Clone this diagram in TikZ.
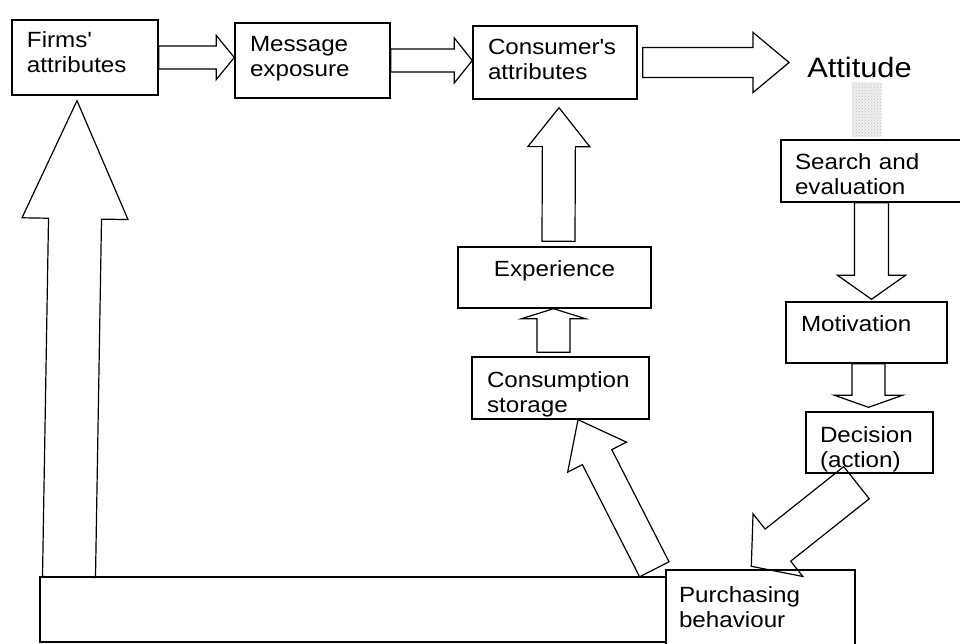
\documentclass[tikz,border=0pt]{standalone}
\usepackage{fontspec}
\setmainfont[FakeStretch=1.1]{Liberation Sans}
\usepackage{tikz}
\usetikzlibrary{calc, patterns}

\newcommand{\blockarrow}[5]{%
  \coordinate (ba-s) at (#1);
  \coordinate (ba-t) at (#2);
  \coordinate (ba-h) at ($(ba-t)!#5!(ba-s)$);
  \draw[fat] ($(ba-s)!#3!90:(ba-t)$) -- ($(ba-h)!#3!90:(ba-t)$) -- ($(ba-h)!#4!90:(ba-t)$) -- (ba-t) -- ($(ba-h)!#4!-90:(ba-t)$) -- ($(ba-h)!#3!-90:(ba-t)$) -- ($(ba-s)!#3!-90:(ba-t)$) -- cycle;
}

\begin{document}
\begin{tikzpicture}[x=1pt, y=-1pt,
    box/.style={draw, line width=1.4pt, inner xsep=15pt, inner ysep=0pt, align=left, font=\fontsize{22}{25}\selectfont},
    fat/.style={line width=1.2pt, line join=miter},
    smudge/.style={fill=gray!12, postaction={pattern=crosshatch dots, pattern color=gray!50}}]
            \useasboundingbox (0, 0) rectangle (960, 644);
            \clip (0, 0) rectangle (960, 644);
            \node[box, text width=116pt, text height=28pt, text depth=47pt] (firms) at (85, 57.5) {Firms\textquotesingle\\attributes};
            \node[box, text width=125pt, text height=29pt, text depth=46pt] (msg) at (312.5, 60.5) {Message\\exposure};
            \node[box, text width=134pt, text height=29pt, text depth=44pt] (cons) at (555, 62.5) {Consumer\textquotesingle s\\attributes};
            \node[inner sep=0pt, font=\fontsize{28}{32}\selectfont] (attitude) at (859.5, 67) {Attitude};
            \node[box, inner xsep=14pt, text width=166pt, text height=30pt, text depth=32pt] (search) at (878, 171) {Search and\\evaluation};
            \node[box, align=center, text width=163pt, text height=29pt, text depth=32pt] (exp) at (554.5, 277.5) {Experience};
            \node[box, text width=147pt, text height=30pt, text depth=32pt] (consump) at (560.5, 388) {Consumption\\storage};
            \node[box, text width=131pt, text height=29pt, text depth=32pt] (motiv) at (866.5, 332.5) {Motivation};
            \node[box, inner xsep=14pt, text width=99pt, text height=30pt, text depth=31pt] (decision) at (869.5, 442.5) {Decision\\(action)};
            \node[box, inner xsep=13pt, text width=163pt, text height=32pt, text depth=80pt] (purch) at (760.5, 626) {Purchasing\\behaviour};
            \coordinate (chan) at (40, 577);
            \coordinate (chanend) at (40, 642);
            \fill[smudge] ($(attitude.south)+(-8, 5)$) rectangle ($(attitude.south |- search.north)+(22, -2)$);
            \draw[fat] (purch.west |- chan) -- (chan) -- (chanend) -- (purch.west |- chanend);
            \blockarrow{firms.east}{firms.east -| msg.west}{11.5pt}{22pt}{18pt}
            \blockarrow{msg.east}{msg.east -| cons.west}{11.5pt}{22.5pt}{18pt}
            \blockarrow{$(cons.east)+(5, 0)$}{$(cons.east -| attitude.west)+(-18, 0)$}{15pt}{30pt}{36pt}
            \blockarrow{$(exp.north)+(4, -5)$}{$(cons.south)+(4, 8)$}{16.5pt}{31pt}{39pt}
            \blockarrow{$(consump.north)+(-7, -4)$}{$(exp.south)+(-1, 0)$}{16.5pt}{32pt}{10pt}
            \blockarrow{$(motiv.north |- search.south)+(5, 0)$}{$(motiv.north)+(5, -2)$}{17pt}{34pt}{24pt}
            \blockarrow{$(motiv.south)+(2, 0)$}{$(decision.north)+(-1, -4)$}{16.5pt}{34pt}{12pt}
            \blockarrow{$(decision.south)+(-13, 9)$}{$(purch.north west)+(86, -3)$}{20.5pt}{40pt}{34pt}
            \blockarrow{$(purch.north west)+(-11, 0)$}{$(consump.south)+(17.5, 0)$}{16.5pt}{33pt}{42pt}
            \blockarrow{$(chan)+(29, 0)$}{$(firms.south)+(-8, 5)$}{26.5pt}{53pt}{118pt}
        \end{tikzpicture}
\end{document}
